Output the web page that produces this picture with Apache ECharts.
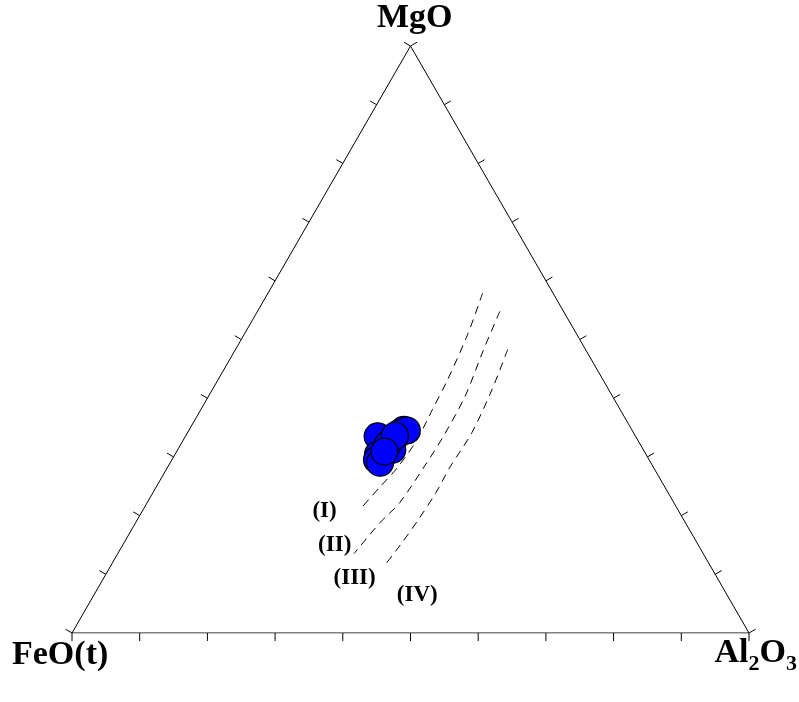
<!DOCTYPE html>
<html>
<head>
<meta charset="utf-8">
<script src="https://cdn.jsdelivr.net/npm/echarts@6/dist/echarts.min.js"></script>
<style>
  html, body { margin: 0; padding: 0; background: #fff; }
  #chart { width: 799px; height: 702px; }
</style>
</head>
<body>
<div id="chart"></div>
<script>
// samples, wt% (MgO, FeO(t), Al2O3)
const sampleMgO   = [33.5, 34.6, 34.0, 34.5, 31.2, 32.1, 30.4, 29.5, 29.0, 33.6, 30.9];
const sampleFeO   = [38.1, 33.7, 34.7, 33.3, 37.1, 37.3, 39.6, 40.2, 40.0, 35.5, 38.4];
const sampleAl2O3 = [28.4, 31.7, 31.3, 32.2, 31.7, 30.6, 30.0, 30.3, 31.0, 30.9, 30.7];

// boundary curves [MgO, FeO(t), Al2O3]
const lineI = [[57.9, 10.4, 31.7], [50.9, 16.1, 33.0], [43.2, 22.9, 33.9], [38.1, 27.7, 34.2],
               [32.9, 32.6, 34.5], [28.3, 37.7, 34.0], [24.7, 42.3, 33.0], [21.0, 47.0, 32.0]];
const lineII = [[54.8, 9.4, 35.8], [48.0, 15.3, 36.7], [40.3, 21.8, 37.9], [33.4, 28.5, 38.1],
                [29.0, 33.1, 37.9], [22.2, 40.5, 37.3], [18.8, 45.1, 36.1], [13.5, 51.6, 34.9]];
const lineIII = [[48.3, 11.5, 40.2], [41.5, 17.2, 41.3], [34.1, 23.9, 42.0], [28.3, 30.0, 41.7],
                 [23.9, 34.3, 41.8], [19.3, 39.2, 41.5], [15.0, 44.0, 41.0], [11.4, 48.2, 40.4]];

// field labels and their positions [MgO, FeO(t), Al2O3]
const fieldNames = ['(I)', '(II)', '(III)', '(IV)'];
const fieldPos = [[20.8, 52.3, 26.9], [15.0, 53.7, 31.3], [9.3, 53.6, 37.1], [6.4, 45.8, 47.8]];

const tickVals = [0, 0.1, 0.2, 0.3, 0.4, 0.5, 0.6, 0.7, 0.8, 0.9, 1];

const H = Math.sqrt(3) / 2;
function toXY(mg, fe, al) {
  const s = mg + fe + al;
  return [(al + mg / 2) / s, (mg / s) * H];
}

const samples = sampleMgO.map((m, i) => toXY(m, sampleFeO[i], sampleAl2O3[i]));
const triangle = [toXY(0, 100, 0), toXY(0, 0, 100), toXY(100, 0, 0), toXY(0, 100, 0)];

// ticks: [t, edge] edge 0 = bottom, 1 = left, 2 = right
const tickData = [];
[0, 1, 2].forEach(e => tickVals.forEach(t => tickData.push([t, e])));

const serif = 'Liberation Serif';
const dashed = { color: '#000', width: 1, type: [8, 6] };

let chart = echarts.init(document.getElementById('chart'));
let option = {
  animation: false,
  grid: { left: 72, right: 50, top: 46, bottom: 69 },
  xAxis: { type: 'value', min: 0, max: 1, show: false },
  yAxis: { type: 'value', min: 0, max: H, show: false },
  graphic: [
    {
      type: 'text', left: 377, top: 1,
      style: { text: 'MgO', font: 'bold 34px "Liberation Serif"', fill: '#000' }
    },
    {
      type: 'text', left: 12, top: 638,
      style: { text: 'FeO(t)', font: 'bold 34px "Liberation Serif"', fill: '#000' }
    },
    {
      type: 'text', right: 2, top: 636,
      style: {
        text: '{m|Al}{s|2}{m|O}{s|3}',
        rich: {
          m: { fontFamily: serif, fontWeight: 'bold', fontSize: 34, lineHeight: 34, verticalAlign: 'top' },
          s: { fontFamily: serif, fontWeight: 'bold', fontSize: 22, lineHeight: 22, verticalAlign: 'top', padding: [17, 0, 0, 0] }
        }
      }
    }
  ],
  series: [
    {
      type: 'line', data: triangle, symbol: 'none', silent: true,
      lineStyle: { color: '#000', width: 1 }
    },
    {
      type: 'custom', data: tickData, silent: true,
      renderItem: function (params, api) {
        const t = api.value(0), e = api.value(1);
        let p, d;
        if (e === 0) { p = [t, 0]; d = [0, 8]; }
        else if (e === 1) { p = [t / 2, t * H]; d = [-6.5, -3.75]; }
        else { p = [1 - t / 2, t * H]; d = [6.5, -3.75]; }
        const c = api.coord(p);
        return {
          type: 'line',
          shape: { x1: c[0], y1: c[1], x2: c[0] + d[0], y2: c[1] + d[1] },
          style: { stroke: '#000', lineWidth: 1 }
        };
      }
    },
    { type: 'line', data: lineI.map(p => toXY(...p)), symbol: 'none', smooth: 0.3, lineStyle: dashed },
    { type: 'line', data: lineII.map(p => toXY(...p)), symbol: 'none', smooth: 0.3, lineStyle: dashed },
    { type: 'line', data: lineIII.map(p => toXY(...p)), symbol: 'none', smooth: 0.3, lineStyle: dashed },
    {
      type: 'scatter',
      data: fieldNames.map((n, i) => ({ name: n, value: toXY(...fieldPos[i]) })),
      symbolSize: 0,
      itemStyle: { opacity: 1 },
      label: {
        show: true, position: 'inside', formatter: p => p.name,
        color: '#000', fontFamily: serif, fontWeight: 'bold', fontSize: 23
      }
    },
    {
      type: 'scatter', data: samples, symbol: 'circle', symbolSize: 27,
      itemStyle: { color: '#0000ff', borderColor: '#000', borderWidth: 1.2, opacity: 1 }
    }
  ]
};
chart.setOption(option);
</script>
</body>
</html>
